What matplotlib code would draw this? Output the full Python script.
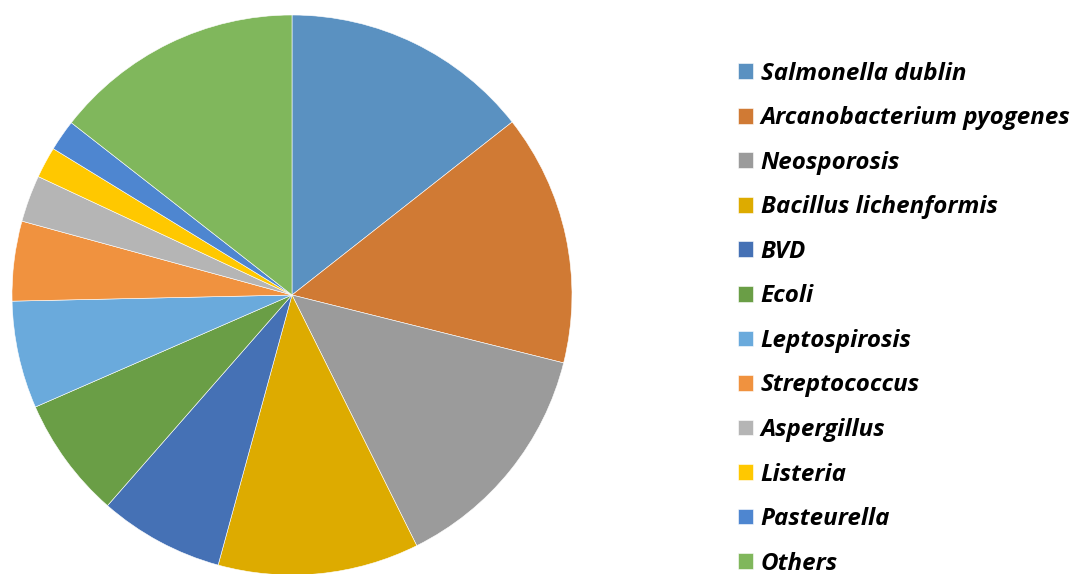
import matplotlib.pyplot as plt

# share of cases per pathogen (%)
labels = ['Salmonella dublin', 'Arcanobacterium pyogenes', 'Neosporosis',
          'Bacillus lichenformis', 'BVD', 'Ecoli', 'Leptospirosis',
          'Streptococcus', 'Aspergillus', 'Listeria', 'Pasteurella', 'Others']
shares = [14.4, 14.5, 13.75, 11.6, 7.2, 7.0, 6.2, 4.6, 2.7, 1.8, 1.8, 14.45]
colors = ['#5A91C1', '#D07A34', '#9B9B9B', '#DDAB00', '#4571B5', '#6A9E46',
          '#6AAADC', '#F0923F', '#B5B5B5', '#FFC800', '#4E86D0', '#80B75C']

fig = plt.figure(figsize=(10.78, 5.74), dpi=100)
ax = fig.add_axes([12 / 1078, -1 / 574, 560 / 1078, 560 / 574])

wedges, _ = ax.pie(shares, colors=colors, startangle=90, counterclock=False,
                   wedgeprops=dict(edgecolor='white', linewidth=0.4))
ax.set_xlim(-1, 1)
ax.set_ylim(-1, 1)
ax.set_aspect('equal')

fig.legend(wedges, labels, loc='upper left',
           bbox_to_anchor=(728 / 1078, 1 - 52 / 574),
           frameon=False, handlelength=0.62, handleheight=0.62,
           handletextpad=0.33, labelspacing=0.85, borderaxespad=0,
           prop=dict(family='Open Sans', weight='bold', style='italic', size=17.4))

fig.savefig('out.png', dpi=100)
